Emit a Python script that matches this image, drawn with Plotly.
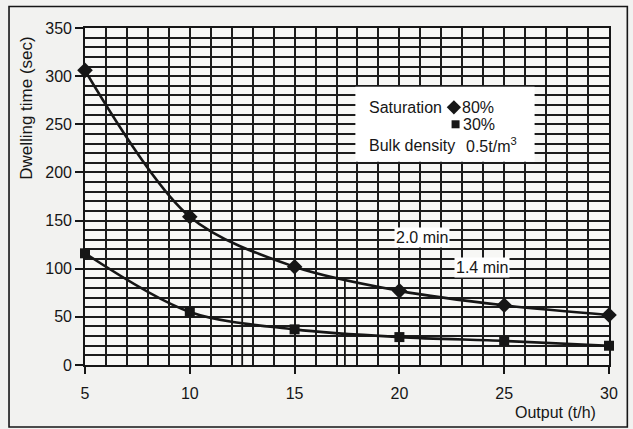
import plotly.graph_objects as go

# ---- data ----
output_th = [5, 10, 15, 20, 25, 30]
sat_80 = [306, 154, 102, 77, 62, 52]
sat_30 = [116, 55, 37, 29, 25, 20]

x_ticks = [5, 10, 15, 20, 25, 30]
y_ticks = [0, 50, 100, 150, 200, 250, 300, 350]

guide_x = [12.5, 17.4]
guide_top = [121, 90]

time_labels = ["2.0 min", "1.4 min"]
time_label_x = [21.1, 23.95]
time_label_y = [132, 101]

INK = "#161616"
FONT = "Liberation Sans, Arial, sans-serif"

fig = go.Figure()

# guide vertical lines
for gx, gt in zip(guide_x, guide_top):
    fig.add_trace(go.Scatter(x=[gx, gx], y=[0, gt], mode="lines",
                             line=dict(color=INK, width=1.8),
                             showlegend=False, hoverinfo="skip"))

fig.add_trace(go.Scatter(x=output_th, y=sat_80, mode="lines+markers",
                         line=dict(color=INK, width=2.6, shape="spline", smoothing=0.9),
                         marker=dict(symbol="diamond", size=12, color=INK),
                         cliponaxis=False, showlegend=False))
fig.add_trace(go.Scatter(x=output_th, y=sat_30, mode="lines+markers",
                         line=dict(color=INK, width=2.6, shape="spline", smoothing=0.9),
                         marker=dict(symbol="square", size=10, color=INK),
                         cliponaxis=False, showlegend=False))

# legend-box symbols
fig.add_trace(go.Scatter(x=[22.6], y=[267.6], mode="markers",
                         marker=dict(symbol="diamond", size=11, color=INK),
                         showlegend=False, hoverinfo="skip"))
fig.add_trace(go.Scatter(x=[22.68], y=[250], mode="markers",
                         marker=dict(symbol="square", size=8, color=INK),
                         showlegend=False, hoverinfo="skip"))

GRID = "#1c1c1c"
grid = dict(showgrid=True, gridcolor=GRID, gridwidth=1.6)

fig.update_xaxes(range=[5, 30], tickvals=x_ticks, ticktext=[str(v) for v in x_ticks],
                 ticks="outside", ticklen=7, tickwidth=1.6, tickcolor=INK,
                 showline=True, linecolor=INK, linewidth=1.6, mirror=True,
                 zeroline=False, ticklabelstandoff=6,
                 minor=dict(dtick=1, tick0=5, showgrid=True, gridcolor=GRID, gridwidth=1.6, ticks=""),
                 tickfont=dict(family=FONT, size=16, color=INK), **grid)
fig.update_yaxes(range=[0, 350], tickvals=y_ticks,
                 ticks="outside", ticklen=8, tickwidth=1.6, tickcolor=INK,
                 showline=True, linecolor=INK, linewidth=1.6, mirror=True,
                 zeroline=False,
                 minor=dict(dtick=10, tick0=0, showgrid=True, gridcolor=GRID, gridwidth=1.6, ticks=""),
                 tickfont=dict(family=FONT, size=16, color=INK), **grid)

shapes = [
    # white legend box (between gridlines and traces)
    dict(type="rect", xref="x", yref="y", x0=17.9, x1=26.45, y0=211, y1=289,
         fillcolor="white", line=dict(width=0), layer="between"),
    # outer frame
    dict(type="rect", xref="paper", yref="paper", x0=-0.145, x1=1.035, y0=-0.184, y1=1.064,
         line=dict(color=INK, width=1.6), fillcolor="rgba(0,0,0,0)", layer="above"),
]

annotations = [
    dict(x=18.45, y=267.6, xref="x", yref="y", text="Saturation", showarrow=False,
         xanchor="left", yanchor="middle", font=dict(family=FONT, size=16, color=INK)),
    dict(x=22.9, y=267.6, xref="x", yref="y", text="80%", showarrow=False,
         xanchor="left", yanchor="middle", font=dict(family=FONT, size=16, color=INK)),
    dict(x=22.95, y=250, xref="x", yref="y", text="30%", showarrow=False,
         xanchor="left", yanchor="middle", font=dict(family=FONT, size=16, color=INK)),
    dict(x=18.45, y=228, xref="x", yref="y", text="Bulk density", showarrow=False,
         xanchor="left", yanchor="middle", font=dict(family=FONT, size=16, color=INK)),
    dict(x=23.1, y=228, xref="x", yref="y", text="0.5t/m<sup>3</sup>", showarrow=False,
         xanchor="left", yanchor="middle", font=dict(family=FONT, size=16, color=INK)),
    dict(x=-0.1107, y=0.763, xref="paper", yref="paper", text="Dwelling time (sec)",
         showarrow=False, textangle=-90, xanchor="center", yanchor="middle",
         font=dict(family=FONT, size=17, color=INK)),
    dict(x=0.897, y=-0.142, xref="paper", yref="paper", text="Output (t/h)",
         showarrow=False, xanchor="center", yanchor="middle",
         font=dict(family=FONT, size=16, color=INK)),
]
for t, tx, ty in zip(time_labels, time_label_x, time_label_y):
    annotations.append(dict(x=tx, y=ty, xref="x", yref="y", text=t, showarrow=False,
                            xanchor="center", yanchor="middle", bgcolor="white",
                            borderpad=1, font=dict(family=FONT, size=16, color=INK)))

fig.update_layout(
    width=633, height=429,
    margin=dict(l=85, r=24, t=28, b=64),
    paper_bgcolor="#f2f2f0", plot_bgcolor="#f7f7f5",
    shapes=shapes, annotations=annotations,
    showlegend=False,
)

fig.write_html("out.html", config={"displayModeBar": False},
               post_script="document.body.style.margin='0';document.body.style.overflow='hidden';")
